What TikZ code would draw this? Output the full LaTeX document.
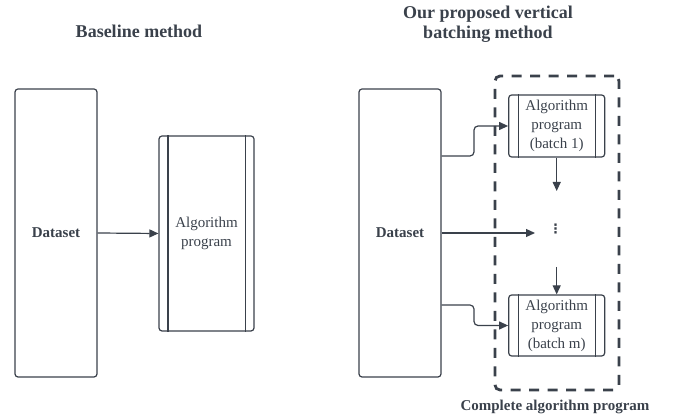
\documentclass[tikz,border=0pt]{standalone}
\usepackage{fontspec}
\setmainfont{Liberation Serif}
\newfontfamily\symfont{DejaVu Sans}
\usetikzlibrary{arrows.meta,calc}
\definecolor{ink}{HTML}{3A414B}
\tikzset{
  box/.style={draw=ink, line width=1.2pt, rounded corners=3pt, inner sep=0pt, text=ink},
  procbox/.style={box, align=center, font=\fontsize{15}{19}\selectfont},
  title/.style={text=ink, align=center, font=\fontsize{18}{20}\selectfont\bfseries},
  lbl/.style={text=ink, align=center, font=\fontsize{15}{18}\selectfont\bfseries},
  arr/.style={draw=ink, line width=1.2pt, -{Triangle[length=9pt,width=8pt]}},
  inner/.style={draw=ink, line width=1.2pt},
  dashbox/.style={draw=ink, line width=2.8pt, dash pattern=on 10pt off 8.5pt, rounded corners=5pt, inner sep=0pt}
}
\begin{document}
\begin{tikzpicture}[x=1pt,y=-1pt]
\useasboundingbox (0,0) rectangle (673,419);

% ---------- Baseline ----------
\node[title] (t1) at (139,31) {Baseline method};
\node[box, minimum width=82pt, minimum height=288pt, font=\fontsize{15}{18}\selectfont\bfseries] (D1) at (56,233) {Dataset};
\node[procbox, minimum width=95pt, minimum height=195pt] (A1) at (206.5,233.5) {Algorithm\\program};
\draw[inner] ([xshift=9.5pt]A1.north west) -- ([xshift=9.5pt]A1.south west);
\draw[inner] ([xshift=-9.5pt]A1.north east) -- ([xshift=-9.5pt]A1.south east);
\draw[arr] (D1.east) -- (A1.west);

% ---------- Proposed ----------
\node[title] (t2) at (488,24) {Our proposed vertical\\batching method};
\node[dashbox, minimum width=124pt, minimum height=314pt] (C) at (557,233) {};
\node[lbl] (cl) at (555,407) {Complete algorithm program};
\node[box, minimum width=82pt, minimum height=288pt, font=\fontsize{15}{18}\selectfont\bfseries] (D2) at (400,233) {Dataset};
\node[procbox, minimum width=96pt, minimum height=62pt] (B1) at (556.7,126) {Algorithm\\program\\(batch 1)};
\node[procbox, minimum width=96pt, minimum height=61pt] (Bm) at (556.7,325.5) {Algorithm\\program\\(batch m)};
\foreach \n in {B1,Bm}{
  \draw[inner] ([xshift=10pt]\n.north west) -- ([xshift=10pt]\n.south west);
  \draw[inner] ([xshift=-10pt]\n.north east) -- ([xshift=-10pt]\n.south east);
}
\node[text=ink, inner sep=0pt, font=\symfont\bfseries\fontsize{13}{13}\selectfont] (dots) at (555.5,229) {⋮};
\coordinate (m1) at (535,233);
\coordinate (a1) at (556.7,191);
\coordinate (a2) at (556.7,267);

\draw[arr, rounded corners=4pt] ($(D2.east)+(0,-77)$) -- (474,156) -- (474,126) -- (B1.west);
\draw[arr] (D2.east) -- (m1);
\draw[arr, rounded corners=4pt] ($(D2.east)+(0,72)$) -- (474,305) -- (474,325.5) -- (Bm.west);
\draw[arr] (B1.south) -- (a1);
\draw[arr] (a2) -- (Bm.north);
\end{tikzpicture}
\end{document}
